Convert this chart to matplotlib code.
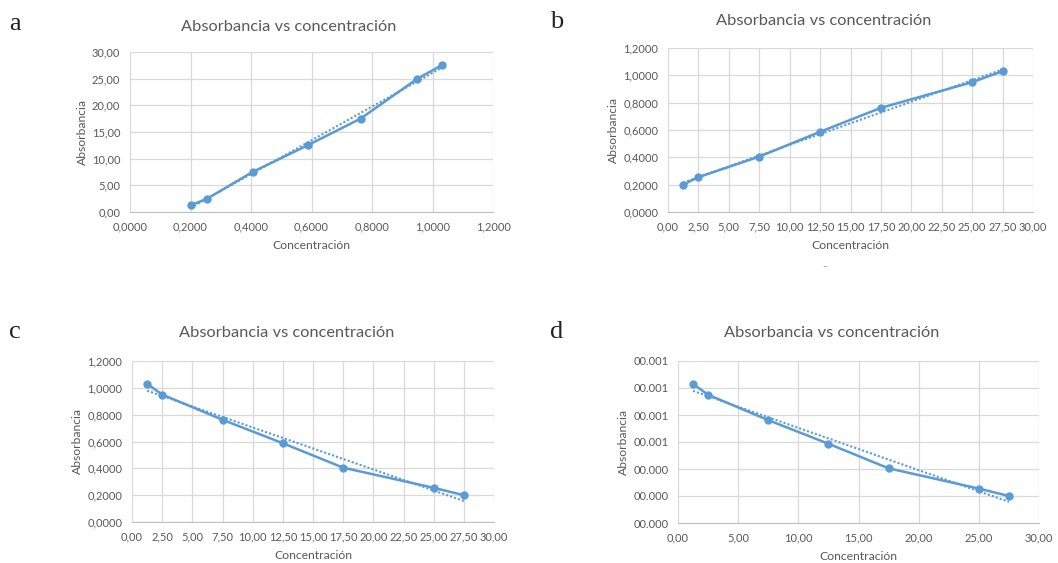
import matplotlib
matplotlib.use("Agg")
import matplotlib.pyplot as plt
import numpy as np
from matplotlib.ticker import FuncFormatter, MultipleLocator, FixedLocator

# datos
concentracion = [1.25, 2.5, 7.5, 12.5, 17.5, 25.0, 27.5]
absorbancia = [0.200, 0.255, 0.405, 0.587, 0.762, 0.950, 1.030]
absorbancia_inv = absorbancia[::-1]
ticks_d = ["00.000", "00.000", "00.000", "00.001", "00.001", "00.001", "00.001"]

azul = "#5B9BD5"
gris_txt = "#595959"
gris_grid = "#D9D9D9"

plt.rcParams["font.family"] = ["Lato", "DejaVu Sans"]

W, H = 1058, 563
fig = plt.figure(figsize=(W / 100, H / 100), dpi=100)


def coma(dec):
    return FuncFormatter(lambda v, p: f"{v:.{dec}f}".replace(".", ","))


def panel(px, x, y, xlim, xstep, xdec, ylim, ystep, ydec, letra, lpos, tpos, ylabels=None):
    l, t, r, b = px
    ax = fig.add_axes([l / W, 1 - b / H, (r - l) / W, (b - t) / H])
    ax.plot(x, y, color=azul, lw=1.8, marker="o", ms=5, zorder=3)
    m, c = np.polyfit(x, y, 1)
    xs = np.array([min(x), max(x)])
    ax.plot(xs, m * xs + c, color=azul, lw=1.5, ls=(0, (1, 1)), zorder=2)
    ax.set_xlim(*xlim)
    ax.set_ylim(*ylim)
    ax.xaxis.set_major_locator(MultipleLocator(xstep))
    ax.yaxis.set_major_locator(MultipleLocator(ystep))
    ax.xaxis.set_major_formatter(coma(xdec))
    if ylabels is None:
        ax.yaxis.set_major_formatter(coma(ydec))
    else:
        ax.yaxis.set_major_locator(FixedLocator(np.arange(0, 1.21, 0.2)))
        ax.set_yticklabels(ylabels)
    ax.grid(True, color=gris_grid, lw=0.9)
    ax.set_axisbelow(True)
    for s in ["top", "right", "left"]:
        ax.spines[s].set_visible(False)
    ax.spines["bottom"].set_color("#BFBFBF")
    ax.tick_params(length=0, labelsize=8, colors=gris_txt)
    ax.tick_params(axis="x", pad=7)
    ax.tick_params(axis="y", pad=7)
    ax.set_xlabel("Concentración", fontsize=8.7, color=gris_txt, labelpad=5)
    ax.set_ylabel("Absorbancia", fontsize=8.7, color=gris_txt, labelpad=3)
    fig.text(tpos[0] / W, 1 - tpos[1] / H, "Absorbancia vs concentración",
             ha="center", va="center", fontsize=11.8, color=gris_txt)
    fig.text(lpos[0] / W, 1 - lpos[1] / H, letra, ha="center", va="center",
             fontsize=19, family="Liberation Serif", color="#222222")
    return ax


panel((130, 52, 493, 212), absorbancia, concentracion, (0, 1.2), 0.2, 4,
      (0, 30), 5, 2, "a", (15, 24), (289, 27))
panel((668, 48, 1033, 212), concentracion, absorbancia, (0, 30), 2.5, 2,
      (0, 1.2), 0.2, 4, "b", (557, 22), (824, 21))
panel((132, 361, 494, 522), concentracion, absorbancia_inv, (0, 30), 2.5, 2,
      (0, 1.2), 0.2, 4, "c", (15, 332), (287, 333))
panel((678, 361, 1039, 523), concentracion, absorbancia_inv, (0, 30), 5, 2,
      (0, 1.2), 0.2, 4, "d", (557, 332), (832, 333), ylabels=ticks_d)

fig.text(825 / W, 1 - 267 / H, "–", ha="center", va="center", fontsize=6, color=gris_txt)

fig.savefig("out.png", dpi=100, facecolor="white")
